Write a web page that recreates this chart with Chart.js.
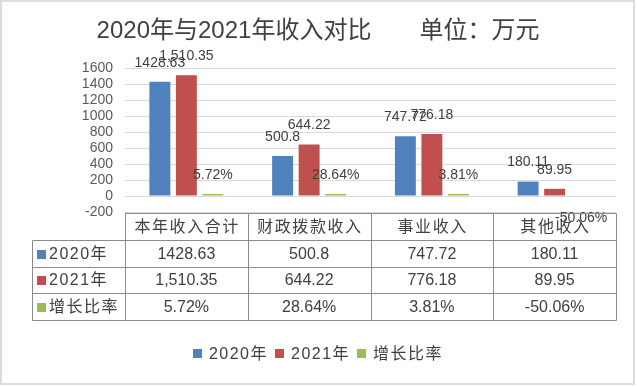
<!DOCTYPE html>
<html>
<head>
<meta charset="utf-8">
<script src="https://cdn.jsdelivr.net/npm/chart.js@4.4.1/dist/chart.umd.min.js"></script>
<style>
  html, body { margin: 0; padding: 0; background: #fff; }
</style>
</head>
<body>
<canvas id="income_chart" width="637" height="387"></canvas>
<script>
// data
const categories = ['本年收入合计', '财政拨款收入', '事业收入', '其他收入'];
const series_names = ['2020年', '2021年', '增长比率'];
const income_2020 = [1428.63, 500.8, 747.72, 180.11];
const income_2021 = [1510.35, 644.22, 776.18, 89.95];
const growth_rate = [0.0572, 0.2864, 0.0381, -0.5006];
const text_2020 = ['1428.63', '500.8', '747.72', '180.11'];
const text_2021 = ['1,510.35', '644.22', '776.18', '89.95'];
const text_growth = ['5.72%', '28.64%', '3.81%', '-50.06%'];
const y_min = -200;
const y_max = 1600;
const y_step = 200;
const title_text = '2020年与2021年收入对比\u3000\u3000单位：万元';

const colors = ['#4f81bd', '#c0504d', '#9bbb59'];
const FONT = "'Liberation Sans', 'Noto Sans CJK SC', sans-serif";
const TEXT_COLOR = '#404040';
const LINE_COLOR = '#8c8c8c';

function spaced_text(ctx, text, x, y, spacing) {
    ctx.letterSpacing = spacing + 'px';
    ctx.fillText(text, x + spacing / 2, y);
    ctx.letterSpacing = '0px';
}

function crisp(v) {
    return Math.round(v) + 0.5;
}

// title, value labels, data table, legend and frame
const extras_plugin = {
    id: 'extras',
    afterDatasetsDraw(chart) {
        let ctx = chart.ctx;
        let label_sets = [text_2020, text_2021, text_growth];
        ctx.save();
        ctx.font = '14px ' + FONT;
        ctx.fillStyle = TEXT_COLOR;
        ctx.textAlign = 'center';
        ctx.textBaseline = 'middle';
        label_sets.forEach((texts, i) => {
            let meta = chart.getDatasetMeta(i);
            meta.data.forEach((bar, j) => {
                let raw = chart.data.datasets[i].data[j];
                let y = raw < 0 ? bar.y + 20 : bar.y - 19;
                ctx.fillText(texts[j], bar.x, y);
            });
        });
        ctx.restore();
    },
    afterDraw(chart) {
        let ctx = chart.ctx;
        let area = chart.chartArea;
        let x_scale = chart.scales.x;
        ctx.save();

        // outer frame
        ctx.strokeStyle = '#dcdcdc';
        ctx.lineWidth = 2;
        ctx.strokeRect(1, 1, 633, 383);

        // title
        ctx.fillStyle = TEXT_COLOR;
        ctx.font = '24px ' + FONT;
        ctx.textAlign = 'center';
        ctx.textBaseline = 'middle';
        ctx.fillText(title_text, 318, 31);

        // data table
        let col_w = (area.right - area.left) / categories.length;
        let table_left = 32;
        let top = area.bottom + 1;
        let head_h = 27;
        let row_h = 26.5;
        let rows = [
            {name: series_names[0], color: colors[0], texts: text_2020},
            {name: series_names[1], color: colors[1], texts: text_2021},
            {name: series_names[2], color: colors[2], texts: text_growth},
        ];
        let bottom = top + head_h + rows.length * row_h;

        ctx.strokeStyle = LINE_COLOR;
        ctx.lineWidth = 1;
        ctx.beginPath();
        ctx.moveTo(crisp(area.left), crisp(top));
        ctx.lineTo(crisp(area.right), crisp(top));
        for (let r = 0; r <= rows.length; r++) {
            let y = crisp(top + head_h + r * row_h);
            ctx.moveTo(crisp(table_left), y);
            ctx.lineTo(crisp(area.right), y);
        }
        ctx.moveTo(crisp(table_left), crisp(top + head_h));
        ctx.lineTo(crisp(table_left), crisp(bottom));
        for (let c = 0; c <= categories.length; c++) {
            let x = crisp(area.left + c * col_w);
            ctx.moveTo(x, crisp(top));
            ctx.lineTo(x, crisp(bottom));
        }
        ctx.stroke();

        ctx.font = '16px ' + FONT;
        ctx.fillStyle = TEXT_COLOR;
        ctx.textAlign = 'center';
        ctx.textBaseline = 'middle';
        categories.forEach((cat, c) => {
            let cx = x_scale.getPixelForValue(c);
            spaced_text(ctx, cat, cx, top + head_h / 2 + 1, 1.5);
        });
        rows.forEach((row, r) => {
            let cy = top + head_h + r * row_h + row_h / 2 + 1;
            ctx.fillStyle = row.color;
            ctx.fillRect(37, Math.round(cy - 4.5), 9, 9);
            ctx.fillStyle = TEXT_COLOR;
            ctx.textAlign = 'left';
            ctx.letterSpacing = '1.5px';
            ctx.fillText(row.name, 49, cy);
            ctx.letterSpacing = '0px';
            ctx.textAlign = 'center';
            row.texts.forEach((t, c) => {
                ctx.fillText(t, x_scale.getPixelForValue(c), cy);
            });
        });

        // legend
        let legend_y = 354;
        let box = 9;
        let gap = 7;
        ctx.font = '16px ' + FONT;
        ctx.letterSpacing = '1.5px';
        let widths = series_names.map(n => ctx.measureText(n).width);
        let total = widths.reduce((a, w) => a + box + gap + w, 0) + gap * (series_names.length - 1);
        let x = 318 - total / 2;
        ctx.textAlign = 'left';
        series_names.forEach((n, i) => {
            ctx.fillStyle = colors[i];
            ctx.fillRect(Math.round(x), legend_y - 5, box, box);
            ctx.fillStyle = TEXT_COLOR;
            ctx.fillText(n, x + box + gap, legend_y + 1);
            x += box + gap + widths[i] + gap;
        });
        ctx.letterSpacing = '0px';
        ctx.restore();
    }
};

const chart_config = {
    type: 'bar',
    data: {
        labels: categories,
        datasets: [
            {label: series_names[0], data: income_2020, backgroundColor: colors[0]},
            {label: series_names[1], data: income_2021, backgroundColor: colors[1]},
            {
                label: series_names[2],
                data: growth_rate,
                // a tiny negative bar does not show in the original
                backgroundColor: (c) => (c.raw < 0 ? 'rgba(0,0,0,0)' : colors[2]),
                minBarLength: 2
            },
        ]
    },
    options: {
        responsive: false,
        animation: false,
        layout: {
            padding: {top: 68, bottom: 175, left: 0, right: 21}
        },
        datasets: {
            bar: {categoryPercentage: 0.648, barPercentage: 0.79}
        },
        plugins: {
            legend: {display: false},
            title: {display: false},
            tooltip: {enabled: false}
        },
        scales: {
            x: {display: false},
            y: {
                min: y_min,
                max: y_max,
                ticks: {
                    stepSize: y_step,
                    autoSkip: false,
                    padding: 12,
                    color: '#595959',
                    font: {family: FONT, size: 14},
                    callback: (value) => String(value)
                },
                grid: {color: '#d9d9d9', drawTicks: false},
                border: {display: false},
                afterFit: (scale) => {
                    scale.width = 125;
                }
            }
        }
    },
    plugins: [extras_plugin]
};

let income_chart = new Chart(
    document.getElementById('income_chart'),
    chart_config
);
</script>
</body>
</html>
